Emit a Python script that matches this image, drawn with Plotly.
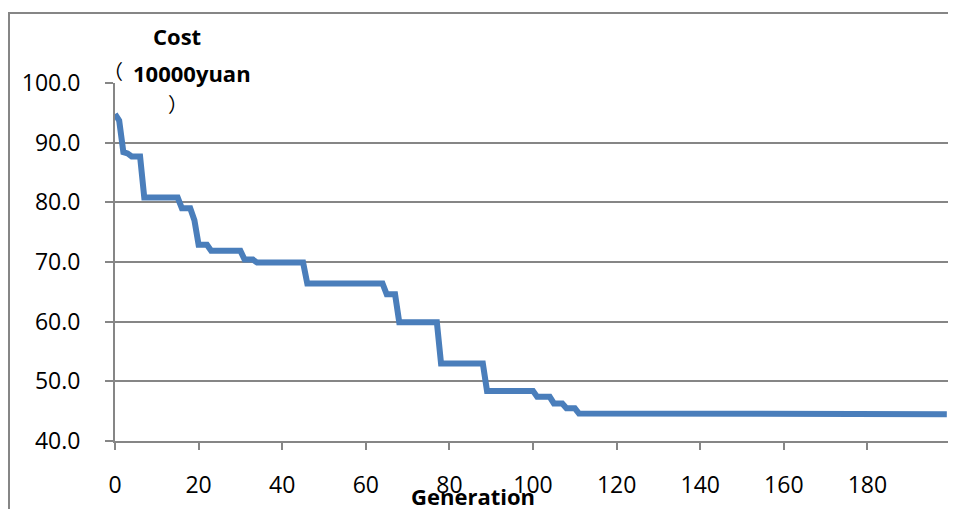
import plotly.graph_objects as go

# ---- data ----
generations = list(range(200))
cost = [
    94.8, 93.7, 88.4, 88.2, 87.7, 87.7, 87.7, 80.8, 80.8, 80.8,
    80.8, 80.8, 80.8, 80.8, 80.8, 80.8, 79.0, 79.0, 79.0, 77.0,
    72.9, 72.9, 72.9, 71.9, 71.9, 71.9, 71.9, 71.9, 71.9, 71.9,
    71.9, 70.4, 70.4, 70.4, 69.9, 69.9, 69.9, 69.9, 69.9, 69.9,
    69.9, 69.9, 69.9, 69.9, 69.9, 69.9, 66.4, 66.4, 66.4, 66.4,
    66.4, 66.4, 66.4, 66.4, 66.4, 66.4, 66.4, 66.4, 66.4, 66.4,
    66.4, 66.4, 66.4, 66.4, 66.4, 64.6, 64.6, 64.6, 59.9, 59.9,
    59.9, 59.9, 59.9, 59.9, 59.9, 59.9, 59.9, 59.9, 53.0, 53.0,
    53.0, 53.0, 53.0, 53.0, 53.0, 53.0, 53.0, 53.0, 53.0, 48.4,
    48.4, 48.4, 48.4, 48.4, 48.4, 48.4, 48.4, 48.4, 48.4, 48.4,
    48.4, 47.4, 47.4, 47.4, 47.4, 46.3, 46.3, 46.3, 45.5, 45.5,
    45.5, 44.6, 44.6, 44.6, 44.6, 44.6, 44.6, 44.6, 44.6, 44.5,
    44.5, 44.5, 44.5, 44.5, 44.5, 44.5, 44.5, 44.5, 44.5, 44.5,
    44.5, 44.5, 44.5, 44.5, 44.5, 44.5, 44.5, 44.5, 44.5, 44.5,
    44.5, 44.5, 44.5, 44.5, 44.5, 44.5, 44.5, 44.5, 44.5, 44.5,
    44.5, 44.5, 44.5, 44.5, 44.5, 44.5, 44.5, 44.5, 44.5, 44.5,
    44.5, 44.5, 44.5, 44.5, 44.5, 44.5, 44.5, 44.5, 44.5, 44.5,
    44.5, 44.5, 44.5, 44.5, 44.5, 44.5, 44.5, 44.5, 44.5, 44.5,
    44.5, 44.5, 44.5, 44.5, 44.5, 44.5, 44.5, 44.5, 44.5, 44.5,
    44.5, 44.5, 44.5, 44.5, 44.5, 44.5, 44.5, 44.5, 44.5, 44.5,
]
x_tick_vals = [0, 20, 40, 60, 80, 100, 120, 140, 160, 180, 200]
x_tick_text = ["0", "20", "40", "60", "80", "100", "120", "140", "160", "180", ""]
y_tick_vals = [40, 50, 60, 70, 80, 90, 100]

# ---- layout geometry (screen pixels; page body has an 8px margin) ----
OFF = 8
FW, FH = 956 - OFF, 509 - OFF
PL, PR, PT, PB = 115, 951, 83, 441          # plot area on screen
L, T = PL - OFF, PT - OFF
R, B = FW - (PR - OFF), FH - (PB - OFF)
PW, PH = PR - PL, PB - PT


def px(xs):
    return (xs - PL) / PW


def py(ys):
    return (PB - ys) / PH


GRID = "#868686"
FONT = "Open Sans"

fig = go.Figure()
fig.add_trace(go.Scatter(
    x=generations, y=cost, mode="lines",
    line=dict(color="#4A7EBB", width=6),
    showlegend=False, hoverinfo="skip",
))

fig.update_layout(
    width=FW, height=FH,
    margin=dict(l=L, r=R, t=T, b=B, pad=0),
    paper_bgcolor="white", plot_bgcolor="white",
    font=dict(family=FONT, color="black"),
    xaxis=dict(
        range=[0, 200], tickvals=x_tick_vals, ticktext=x_tick_text,
        showgrid=False, zeroline=False,
        showline=True, linecolor=GRID, linewidth=2,
        ticks="outside", ticklen=7, tickwidth=2, tickcolor=GRID,
        tickfont=dict(size=23, family=FONT, color="black"),
        ticklabelstandoff=15,
    ),
    yaxis=dict(
        range=[40, 100], tickvals=y_tick_vals, tickformat=".1f",
        showgrid=True, gridcolor=GRID, gridwidth=2, zeroline=False,
        showline=True, linecolor=GRID, linewidth=2,
        ticks="outside", ticklen=8, tickwidth=2, tickcolor=GRID,
        tickfont=dict(size=23, family=FONT, color="black"),
        ticklabelstandoff=20,
    ),
    shapes=[
        dict(type="line", xref="paper", yref="paper",
             x0=px(9), x1=px(9), y0=py(13), y1=py(520),
             line=dict(color=GRID, width=2)),
        dict(type="line", xref="paper", yref="paper",
             x0=px(8), x1=px(970), y0=py(13), y1=py(13),
             line=dict(color=GRID, width=2)),
    ],
    annotations=[
        dict(text="<b>Cost</b>", xref="paper", yref="paper",
             x=px(177), y=py(36), xanchor="center", yanchor="middle",
             showarrow=False, font=dict(size=22, family=FONT)),
        dict(text="（", xref="paper", yref="paper",
             x=px(113), y=py(71), xanchor="center", yanchor="middle",
             showarrow=False, font=dict(size=20, family="Noto Sans CJK SC")),
        dict(text="<b>10000yuan</b>", xref="paper", yref="paper",
             x=px(192), y=py(73), xanchor="center", yanchor="middle",
             showarrow=False, font=dict(size=22, family=FONT)),
        dict(text="）", xref="paper", yref="paper",
             x=px(178), y=py(103), xanchor="center", yanchor="middle",
             showarrow=False, font=dict(size=20, family="Noto Sans CJK SC")),
        dict(text="<b>Generation</b>", xref="paper", yref="paper",
             x=px(473), y=py(496), xanchor="center", yanchor="middle",
             showarrow=False, font=dict(size=22, family=FONT)),
    ],
)

fig.write_html("out.html")
